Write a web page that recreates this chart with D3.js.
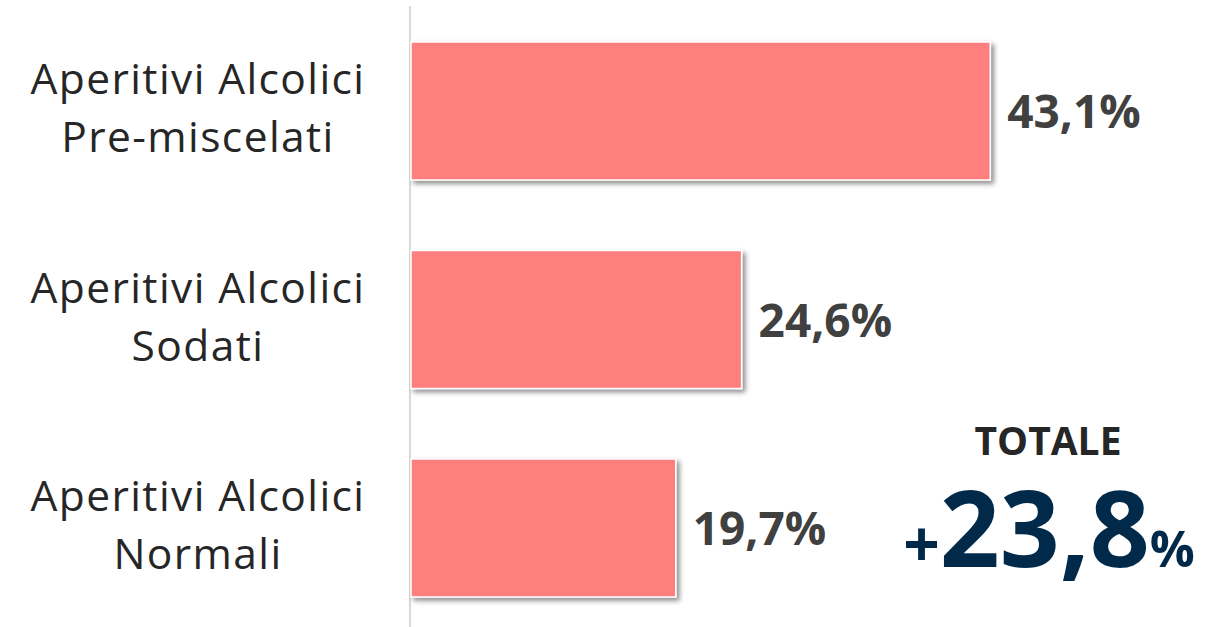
<!DOCTYPE html>
<html>
<head>
<meta charset="utf-8">
<script src="https://cdn.jsdelivr.net/npm/d3@7"></script>
<style>
  body { margin: 0; background: #fff; }
  svg { display: block; }
</style>
</head>
<body>
<div id="chart"></div>
<script>
// dati
var categories = [["Aperitivi Alcolici", "Pre-miscelati"], ["Aperitivi Alcolici", "Sodati"], ["Aperitivi Alcolici", "Normali"]];
var values = [43.1, 24.6, 19.7];
var totalLabel = "TOTALE";
var totalValue = 23.8;

var width = 1213, height = 627;
var fmt = function(v) { return d3.format(".1f")(v).replace(".", ","); };

var svg = d3.select("#chart")
    .append("svg")
    .attr("width", width)
    .attr("height", height);

var defs = svg.append("defs");
var shadow = defs.append("filter")
    .attr("id", "shadow")
    .attr("x", "-10%").attr("y", "-10%")
    .attr("width", "130%").attr("height", "130%");
shadow.append("feDropShadow")
    .attr("dx", 3).attr("dy", 3)
    .attr("stdDeviation", 2.5)
    .attr("flood-color", "#000")
    .attr("flood-opacity", 0.45);

var x = d3.scaleLinear()
    .domain([0, 50])
    .range([411, 411 + 50 * 13.44]);

var y = d3.scaleBand()
    .domain(d3.range(values.length))
    .range([42, 597])
    .paddingInner(0.338)
    .paddingOuter(0);

// asse verticale
svg.append("line")
    .attr("x1", 410).attr("x2", 410)
    .attr("y1", 6).attr("y2", height)
    .style("stroke", "#d9d9d9")
    .style("stroke-width", 2);

svg.selectAll(".bar")
    .data(values)
    .enter()
    .append("rect")
    .attr("class", "bar")
    .attr("x", x(0))
    .attr("y", function(d, i) { return y(i); })
    .attr("width", function(d) { return x(d) - x(0); })
    .attr("height", y.bandwidth())
    .style("fill", "#ff7f7f")
    .style("stroke", "#fff")
    .style("stroke-width", 1.5)
    .attr("filter", "url(#shadow)");

svg.selectAll(".val")
    .data(values)
    .enter()
    .append("text")
    .attr("class", "val")
    .attr("x", function(d) { return x(d) + 17; })
    .attr("y", function(d, i) { return y(i) + y.bandwidth() / 2 + 17; })
    .text(function(d) { return fmt(d) + "%"; })
    .style("fill", "#404040")
    .style("font-family", "Open Sans, Noto Sans, sans-serif")
    .style("font-weight", "bold")
    .style("font-size", "46px");

var cat = svg.selectAll(".cat")
    .data(categories)
    .enter()
    .append("text")
    .attr("class", "cat")
    .attr("text-anchor", "middle")
    .style("fill", "#262626")
    .style("font-family", "Open Sans, Noto Sans, sans-serif")
    .style("font-size", "42.5px")
    .style("letter-spacing", "1.4px");

cat.selectAll("tspan")
    .data(function(d, i) { return d.map(function(t, j) { return { t: t, i: i, j: j }; }); })
    .enter()
    .append("tspan")
    .attr("x", 198)
    .attr("y", function(d) { return y(d.i) + y.bandwidth() / 2 - 17 + d.j * 58; })
    .text(function(d) { return d.t; });

// totale
svg.append("text")
    .attr("x", 1048)
    .attr("y", 455)
    .attr("text-anchor", "middle")
    .text(totalLabel)
    .style("fill", "#262626")
    .style("font-family", "Open Sans, Noto Sans, sans-serif")
    .style("font-weight", "bold")
    .style("font-size", "39px");

var tot = svg.append("text")
    .attr("x", 1049)
    .attr("y", 567)
    .attr("text-anchor", "middle")
    .style("fill", "#012a4a")
    .style("font-family", "Open Sans, Noto Sans, sans-serif")
    .style("font-weight", "bold");
tot.append("tspan").style("font-size", "64px").text("+");
tot.append("tspan").style("font-size", "105px").text(fmt(totalValue));
tot.append("tspan").style("font-size", "50px").text("%");
</script>
</body>
</html>
